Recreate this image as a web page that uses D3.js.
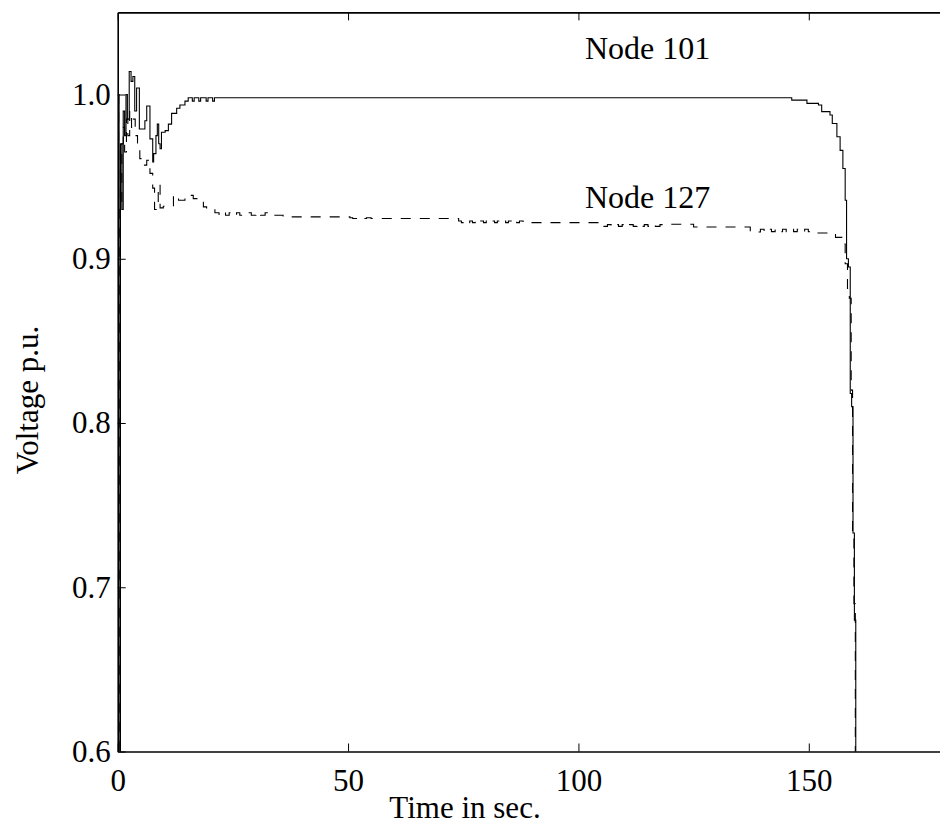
<!DOCTYPE html>
<html>
<head>
<meta charset="utf-8">
<script src="https://cdnjs.cloudflare.com/ajax/libs/d3/7.8.5/d3.min.js"></script>
<style>
  html, body { margin: 0; padding: 0; background: #fff; }
  svg { display: block; }
  text { font-family: "Liberation Serif", "Times New Roman", serif; fill: #000; }
</style>
</head>
<body>
<script>
// ---------- data ----------
const xTicks = [0, 50, 100, 150];
const yTicks = [0.6, 0.7, 0.8, 0.9, 1.0];
const yTickLabels = ["0.6", "0.7", "0.8", "0.9", "1.0"];
const xLabel = "Time in sec.";
const yLabel = "Voltage p.u.";
const seriesNames = ["Node 101", "Node 127"];

// Node 101 (solid)
const time101 = [0, 0.3, 0.6, 0.9, 1.2, 1.5, 1.8, 2.1, 2.5, 2.9, 3.3, 3.7, 4.1, 4.7, 5.9, 6.3, 7.0, 7.6, 7.8, 8.3, 8.6, 8.9, 9.2, 9.5, 10.3, 11.0, 11.7, 12.8, 13.5, 14.6, 15.3, 16.2, 16.6, 17.6, 18.0, 19.2, 19.6, 20.6, 21.0, 22.2, 146.3, 149.6, 152.1, 152.8, 154.6, 155.1, 156.1, 156.8, 157.4, 157.9, 158.2, 158.6, 159.0, 159.3, 159.6, 159.9, 160.2];
const volt101 = [1.0, 0.5, 0.97, 0.93, 0.99, 0.975, 1.0, 0.985, 1.014, 1.008, 1.011, 0.99, 1.004, 0.979, 0.984, 0.993, 0.973, 0.959, 0.964, 0.975, 0.982, 0.97, 0.967, 0.977, 0.978, 0.982, 0.9885, 0.9916, 0.9936, 0.996, 0.998, 0.996, 0.998, 0.996, 0.998, 0.996, 0.998, 0.996, 0.998, 0.998, 0.9966, 0.9946, 0.9936, 0.9896, 0.9875, 0.9824, 0.9743, 0.966, 0.955, 0.9356, 0.900, 0.895, 0.818, 0.81, 0.733, 0.68, 0.5];

// Node 127 (dashed)
const time127 = [0, 0.2, 0.5, 0.9, 1.2, 1.5, 1.9, 2.2, 2.6, 3.0, 3.4, 3.8, 4.3, 4.8, 5.5, 6.3, 7.0, 7.6, 8.0, 8.8, 9.2, 9.9, 11.3, 12.1, 13.2, 14.6, 16.4, 18.6, 19.3, 21.1, 22.0, 22.6, 23.4, 24.2, 25.0, 25.8, 26.5, 28.0, 29.0, 30.0, 31.0, 32.0, 33.0, 35.9, 50.4, 51.0, 52.0, 53.0, 54.0, 55.0, 56.0, 74.0, 74.6, 75.2, 75.8, 76.4, 77.0, 77.6, 78.2, 78.8, 79.4, 80.0, 80.6, 81.2, 81.8, 82.4, 83.0, 83.6, 84.2, 84.8, 85.4, 86.0, 86.6, 87.2, 88.0, 104.7, 105.5, 106.3, 107.1, 107.9, 108.7, 109.5, 110.3, 111.1, 111.9, 112.7, 113.5, 114.3, 115.1, 115.9, 116.7, 117.7, 118.8, 125.0, 137.3, 139.5, 140.3, 141.1, 141.9, 142.7, 143.5, 144.3, 145.1, 145.9, 146.7, 147.5, 148.3, 149.1, 149.9, 150.4, 151.5, 155.8, 157.2, 157.9, 158.4, 158.8, 159.2, 159.5, 159.8, 160.1];
const volt127 = [1.0, 0.5, 0.93, 0.97, 0.98, 0.965, 0.985, 0.975, 0.99, 0.98, 0.985, 0.975, 0.97, 0.961, 0.957, 0.96, 0.952, 0.943, 0.93, 0.945, 0.931, 0.932, 0.932, 0.9386, 0.9356, 0.9386, 0.9366, 0.9316, 0.9305, 0.928, 0.9265, 0.928, 0.9265, 0.928, 0.9265, 0.928, 0.9265, 0.928, 0.9265, 0.928, 0.9265, 0.928, 0.9265, 0.9255, 0.925, 0.9245, 0.925, 0.9245, 0.925, 0.9245, 0.9245, 0.923, 0.922, 0.923, 0.922, 0.923, 0.922, 0.923, 0.922, 0.923, 0.922, 0.923, 0.922, 0.923, 0.922, 0.923, 0.922, 0.923, 0.922, 0.923, 0.922, 0.923, 0.922, 0.923, 0.922, 0.9208, 0.9197, 0.9208, 0.9197, 0.9208, 0.9197, 0.9208, 0.9197, 0.9208, 0.9197, 0.9208, 0.9197, 0.9208, 0.9197, 0.9208, 0.9197, 0.9208, 0.921, 0.9193, 0.9163, 0.918, 0.9165, 0.918, 0.9165, 0.918, 0.9165, 0.918, 0.9165, 0.918, 0.9165, 0.918, 0.9165, 0.918, 0.9165, 0.9165, 0.9157, 0.913, 0.909, 0.897, 0.882, 0.876, 0.82, 0.73, 0.69, 0.5];

// ---------- layout ----------
const W = 940, H = 825;
const FONT = 31;
const svg = d3.select("body").append("svg").attr("width", W).attr("height", H);

const x = d3.scaleLinear().domain([0, 180]).range([117.7, 947]);
const y = d3.scaleLinear().domain([0.6, 1.05]).range([751.5, 12.4]);

svg.append("defs").append("clipPath").attr("id", "plotclip")
  .append("rect").attr("x", x(0)).attr("y", y(1.05))
  .attr("width", x(180) - x(0)).attr("height", y(0.6) - y(1.05));

// data lines
const line = d3.line().x(d => x(d[0])).y(d => y(d[1])).curve(d3.curveStepAfter);
const d101 = time101.map((t, i) => [t, volt101[i]]);
const d127 = time127.map((t, i) => [t, volt127[i]]);

const g = svg.append("g").attr("clip-path", "url(#plotclip)");
g.append("path").datum(d127).attr("d", line)
  .attr("fill", "none").attr("stroke", "#000").attr("stroke-width", 1.1)
  .attr("stroke-dasharray", "10,9");
g.append("path").datum(d101).attr("d", line)
  .attr("fill", "none").attr("stroke", "#000").attr("stroke-width", 1.1);

// axes (the right edge of the box lies outside the picture)
const TS = 8;
const axB = svg.append("g").attr("transform", `translate(0,${y(0.6)})`)
  .call(d3.axisBottom(x).tickValues(xTicks).tickFormat(d3.format("d")).tickSizeInner(-TS).tickSizeOuter(0).tickPadding(17));
const axT = svg.append("g").attr("transform", `translate(0,${y(1.05)})`)
  .call(d3.axisTop(x).tickValues(xTicks).tickFormat("").tickSizeInner(-TS).tickSizeOuter(0));
const axL = svg.append("g").attr("transform", `translate(${x(0)},0)`)
  .call(d3.axisLeft(y).tickValues(yTicks).tickFormat((d, i) => yTickLabels[i]).tickSizeInner(-TS).tickSizeOuter(0).tickPadding(7));

[axB, axT, axL].forEach(a => {
  a.select(".domain").attr("stroke", "#000").attr("stroke-width", 1.6);
  a.selectAll(".tick line").attr("stroke", "#000").attr("stroke-width", 1);
  a.selectAll("text").style("font-family", "Liberation Serif").style("font-size", FONT + "px").attr("fill", "#000");
});

// axis titles
svg.append("text").attr("x", 465).attr("y", 818).attr("text-anchor", "middle")
  .style("font-size", FONT + "px").text(xLabel);
svg.append("text").attr("transform", "translate(38,400) rotate(-90)").attr("text-anchor", "middle")
  .style("font-size", FONT + "px").text(yLabel);

// series annotations
svg.append("text").attr("x", 585).attr("y", 59).style("font-size", "32px").text(seriesNames[0]);
svg.append("text").attr("x", 585).attr("y", 208).style("font-size", "32px").text(seriesNames[1]);
</script>
</body>
</html>
